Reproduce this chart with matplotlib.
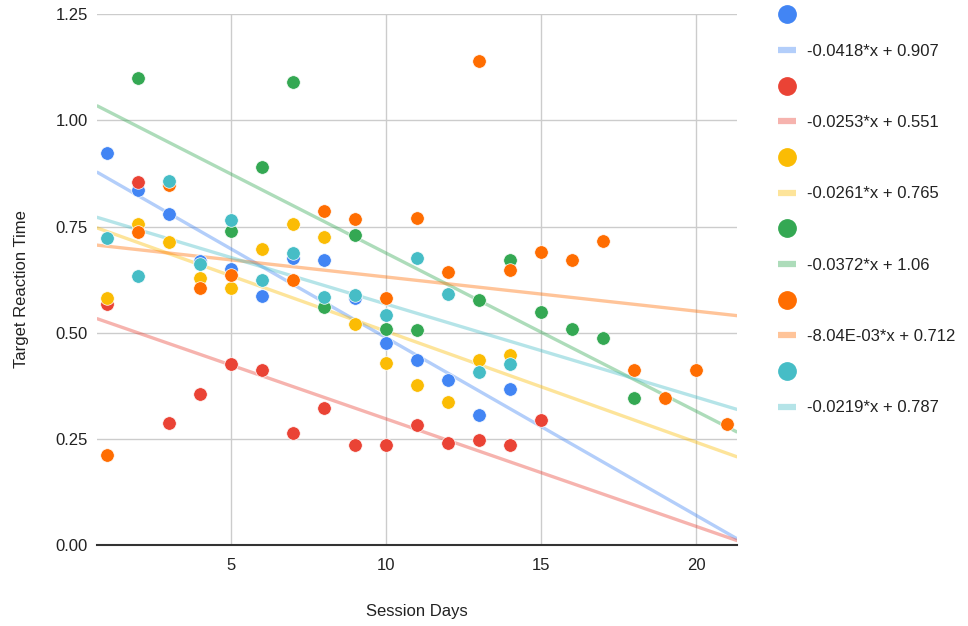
import matplotlib
matplotlib.use("Agg")
import matplotlib.pyplot as plt
from matplotlib.lines import Line2D
import numpy as np

plt.rcParams["font.family"] = ["Liberation Sans", "DejaVu Sans"]

BLUE_X = [1, 2, 3, 4, 5, 6, 7, 8, 9, 10, 11, 12, 13, 14]
BLUE_Y = [0.923, 0.835, 0.780, 0.669, 0.651, 0.587, 0.676, 0.671, 0.581,
          0.477, 0.437, 0.389, 0.306, 0.369]

RED_X = [1, 2, 3, 4, 5, 6, 7, 8, 9, 10, 11, 12, 13, 14, 15]
RED_Y = [0.567, 0.855, 0.287, 0.357, 0.426, 0.412, 0.264, 0.323, 0.237,
         0.237, 0.283, 0.240, 0.249, 0.237, 0.294]

YELLOW_X = [1, 2, 3, 4, 5, 6, 7, 8, 9, 10, 11, 12, 13, 14]
YELLOW_Y = [0.581, 0.757, 0.714, 0.630, 0.605, 0.697, 0.755, 0.726, 0.520,
            0.430, 0.378, 0.338, 0.436, 0.447]

GREEN_X = [2, 5, 6, 7, 8, 9, 10, 11, 13, 14, 15, 16, 17, 18]
GREEN_Y = [1.099, 0.739, 0.891, 1.091, 0.561, 0.730, 0.509, 0.507, 0.577,
           0.672, 0.549, 0.510, 0.489, 0.346]

ORANGE_X = [1, 2, 3, 4, 5, 7, 8, 9, 10, 11, 12, 13, 14, 15, 16, 17, 18, 19,
            20, 21]
ORANGE_Y = [0.213, 0.738, 0.848, 0.606, 0.636, 0.625, 0.787, 0.769, 0.583,
            0.770, 0.643, 1.139, 0.648, 0.691, 0.671, 0.717, 0.412, 0.347,
            0.412, 0.286]

TEAL_X = [1, 2, 3, 4, 5, 6, 7, 8, 9, 10, 11, 12, 13, 14]
TEAL_Y = [0.723, 0.633, 0.858, 0.662, 0.765, 0.624, 0.688, 0.584, 0.588,
          0.543, 0.676, 0.591, 0.408, 0.426]

# trendline coefficients as shown in the legend
SLOPES = [-0.0418, -0.0253, -0.0261, -0.0372, -0.00804, -0.0219]
INTERCEPTS = [0.907, 0.551, 0.765, 1.06, 0.712, 0.787]
TREND_LABELS = ["-0.0418*x + 0.907", "-0.0253*x + 0.551", "-0.0261*x + 0.765",
                "-0.0372*x + 1.06", "-8.04E-03*x + 0.712", "-0.0219*x + 0.787"]

Y_TICKS = [0.0, 0.25, 0.5, 0.75, 1.0, 1.25]
X_TICKS = [5, 10, 15, 20]

COLORS = ["#4285F4", "#EA4335", "#FBBC04", "#34A853", "#FF6D01", "#46BDC6"]
SERIES = [(BLUE_X, BLUE_Y), (RED_X, RED_Y), (YELLOW_X, YELLOW_Y),
          (GREEN_X, GREEN_Y), (ORANGE_X, ORANGE_Y), (TEAL_X, TEAL_Y)]

XMIN, XMAX = 0.68, 21.33

fig = plt.figure(figsize=(9.68, 6.26), dpi=100)
ax = fig.add_axes([0.0999, 0.1286, 0.6618, 0.849])

line_x = np.array([XMIN, XMAX])
handles = []
labels = []
for (xs, ys), color, m, b, lab in zip(SERIES, COLORS, SLOPES, INTERCEPTS,
                                      TREND_LABELS):
    ax.plot(line_x, m * line_x + b, color=color, alpha=0.4, linewidth=2.4,
            solid_capstyle="butt", zorder=2)
    ax.scatter(xs, ys, s=95, color=color, edgecolors="white",
               linewidths=0.5, zorder=3)
    handles.append(Line2D([], [], linestyle="none", marker="o",
                          markersize=12.5, color=color))
    labels.append(" ")
    handles.append(Line2D([], [], color=color, alpha=0.4, linewidth=4.5,
                          solid_capstyle="butt"))
    labels.append(lab)

ax.set_xlim(XMIN, XMAX)
ax.set_ylim(0, 1.25)
ax.set_xticks(X_TICKS)
ax.set_yticks(Y_TICKS)
ax.set_yticklabels([f"{v:.2f}" for v in Y_TICKS])
ax.grid(True, color="#cccccc", linewidth=1.0)
ax.set_axisbelow(True)
for side in ("left", "right", "top"):
    ax.spines[side].set_visible(False)
ax.spines["bottom"].set_color("#333333")
ax.spines["bottom"].set_linewidth(1.5)
ax.spines["bottom"].set_zorder(4)
ax.tick_params(axis="both", length=0, labelsize=12, colors="#222222")
ax.tick_params(axis="y", pad=6.5)
ax.tick_params(axis="x", pad=9)

ax.set_xlabel("Session Days", fontsize=12, color="#222222")
ax.set_ylabel("Target Reaction Time", fontsize=12, color="#222222")
ax.xaxis.set_label_coords(0.5, -0.11)
ax.yaxis.set_label_coords(-0.106, 0.483)

fig.legend(handles, labels, loc="upper left",
           bbox_to_anchor=(0.8034, 0.987), bbox_transform=fig.transFigure,
           frameon=False, fontsize=12, labelspacing=1.24, handlelength=1.1,
           handletextpad=0.66, borderpad=0, borderaxespad=0,
           labelcolor="#222222")

fig.savefig("out.png", dpi=100)
